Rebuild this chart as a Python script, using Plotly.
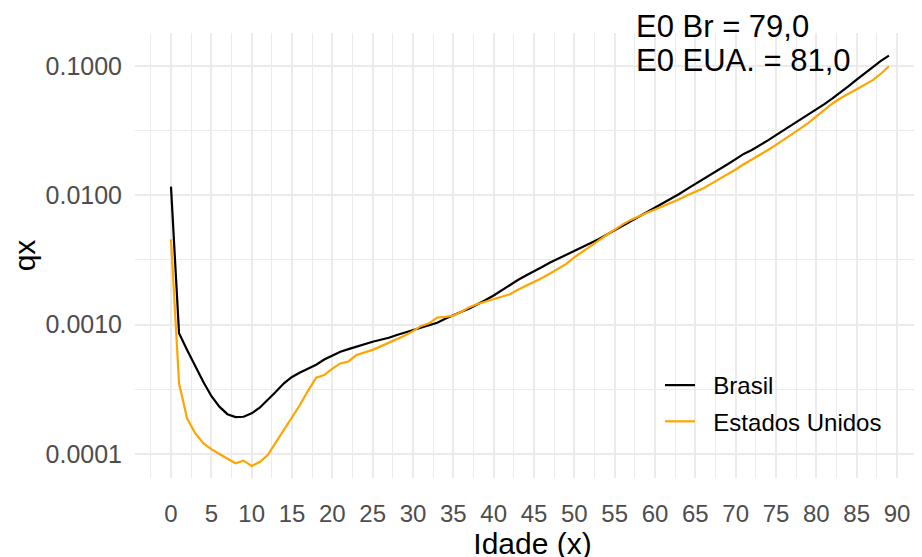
import plotly.graph_objects as go

idade = list(range(0, 90))

qx_brasil = [
    0.01167, 0.000857, 0.000637, 0.000473, 0.000362, 0.000281, 0.000232, 0.000203, 0.000193, 0.000194,
    0.000206, 0.000228, 0.000261, 0.000303, 0.000352, 0.000394, 0.000427, 0.000455, 0.000490, 0.000537,
    0.000579, 0.000617, 0.000646, 0.000676, 0.000708, 0.000738, 0.000764, 0.000791, 0.000832, 0.000871,
    0.000910, 0.000955, 0.001000, 0.001035, 0.001109, 0.001189, 0.001259, 0.001334, 0.001429, 0.001549,
    0.001679, 0.001841, 0.002042, 0.002213, 0.002399, 0.002570, 0.002786, 0.003020, 0.003236, 0.003467,
    0.003673, 0.003981, 0.004266, 0.004571, 0.004955, 0.005370, 0.005821, 0.006310, 0.006808, 0.007362,
    0.007943, 0.008610, 0.009333, 0.010233, 0.011220, 0.012218, 0.013335, 0.014521, 0.015849, 0.017378,
    0.019055, 0.020893, 0.022387, 0.024266, 0.026607, 0.029174, 0.031989, 0.035075, 0.038194, 0.042170,
    0.046238, 0.050699, 0.056234, 0.062373, 0.069984, 0.078524, 0.088105, 0.098855, 0.109648, 0.120226,
]

qx_eua = [
    0.004571, 0.000352, 0.000188, 0.000145, 0.000121, 0.000109, 0.000100, 0.0000925, 0.0000847, 0.0000887,
    0.0000807, 0.0000867, 0.0000982, 0.000123, 0.000153, 0.000191, 0.000240, 0.000309, 0.000389, 0.000407,
    0.000457, 0.000501, 0.000519, 0.000582, 0.000610, 0.000638, 0.000679, 0.000724, 0.000776, 0.000822,
    0.000891, 0.000977, 0.001023, 0.001135, 0.001148, 0.001175, 0.001259, 0.001365, 0.001445, 0.001514,
    0.001570, 0.001641, 0.001718, 0.001862, 0.001995, 0.002113, 0.002291, 0.002483, 0.002692, 0.002951,
    0.003311, 0.003673, 0.004074, 0.004467, 0.004932, 0.005433, 0.005957, 0.006457, 0.006918, 0.007328,
    0.007762, 0.008222, 0.008710, 0.009333, 0.010000, 0.010593, 0.011350, 0.012303, 0.013335, 0.014454,
    0.015849, 0.017378, 0.018836, 0.020417, 0.022387, 0.024547, 0.026915, 0.029512, 0.032734, 0.036308,
    0.040738, 0.045709, 0.051286, 0.056234, 0.060954, 0.066069, 0.070795, 0.077625, 0.087096, 0.099500,
]

x_ticks = list(range(0, 95, 5))
y_ticks = [0.0001, 0.001, 0.01, 0.1]
y_tick_text = ["0.0001", "0.0010", "0.0100", "0.1000"]
y_minor = [10 ** -4.5, 10 ** -3.5, 10 ** -2.5, 10 ** -1.5, 10 ** -0.5]

FONT = "Liberation Sans, Arial, sans-serif"
GRID = "#EBEBEB"
GAP = "\u00a0\u00a0"  # legend text sits a bit further from the key, as in ggplot

fig = go.Figure()
fig.add_trace(go.Scatter(x=idade, y=qx_brasil, mode="lines", name=GAP + "Brasil",
                         legendgroup="br", line=dict(color="black", width=2.2)))
fig.add_trace(go.Scatter(x=idade, y=qx_eua, mode="lines", name=GAP + "Estados Unidos",
                         legendgroup="us", line=dict(color="#FFA500", width=2.2)))

# the page body has an 8px margin, so the figure is drawn 8px to the right and down
fig.update_xaxes(
    range=[-4.46, 94.09], tickvals=x_ticks, ticks="", showline=False, zeroline=False,
    automargin=False, gridcolor=GRID, gridwidth=2, ticklabelstandoff=19,
    tickfont=dict(size=24, color="#4D4D4D", family=FONT),
    minor=dict(dtick=2.5, tick0=0, showgrid=True, gridcolor=GRID, gridwidth=1.3),
    title=dict(text="Idade (x)", font=dict(size=30, color="black", family=FONT), standoff=0),
)
fig.update_yaxes(
    type="log", range=[-4.186, -0.745], tickvals=y_ticks, ticktext=y_tick_text,
    ticks="", showline=False, zeroline=False, automargin=False, gridcolor=GRID, gridwidth=2,
    ticklabelstandoff=12, tickfont=dict(size=25, color="#4D4D4D", family=FONT),
    minor=dict(tickmode="array", tickvals=y_minor, showgrid=True, gridcolor=GRID, gridwidth=1.3),
    title=dict(text="qx", font=dict(size=30, color="black", family=FONT), standoff=3),
)

fig.add_annotation(x=0.5723, y=1.064, xref="paper", yref="paper", xanchor="right", yanchor="bottom",
                   text="Probabilidade de morte (x)", showarrow=False,
                   font=dict(size=24, color="black", family=FONT))
fig.add_annotation(x=0.6277, y=1.0157, xref="paper", yref="paper", xanchor="left", yanchor="middle",
                   text="E0 Br = 79,0", showarrow=False, font=dict(size=31, color="black", family=FONT))
fig.add_annotation(x=0.6277, y=0.9371, xref="paper", yref="paper", xanchor="left", yanchor="middle",
                   text="E0 EUA. = 81,0", showarrow=False, font=dict(size=31, color="black", family=FONT))

fig.update_layout(
    width=922, height=557,
    margin=dict(l=127, r=0, t=25, b=87),
    plot_bgcolor="white", paper_bgcolor="white",
    showlegend=True,
    legend=dict(x=0.6604, y=0.2584, xanchor="left", yanchor="top", bgcolor="rgba(0,0,0,0)",
                font=dict(size=24, color="black", family=FONT), tracegroupgap=2),
)

fig.write_html("out.html")
